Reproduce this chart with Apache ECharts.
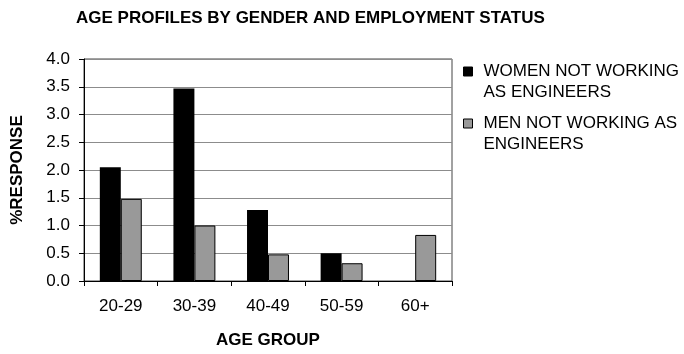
<!DOCTYPE html>
<html>
<head>
<meta charset="utf-8">
<script src="https://cdn.jsdelivr.net/npm/echarts@6/dist/echarts.min.js"></script>
<style>
  html, body { margin: 0; padding: 0; background: #ffffff; }
  #chart { width: 684px; height: 354px; }
</style>
</head>
<body>
<div id="chart"></div>
<script>
// Age groups on the horizontal axis
const ageGroups = ['20-29', '30-39', '40-49', '50-59', '60+'];

// Share of responses (%) per age group
const womenNotEngineers = [2.05, 3.47, 1.28, 0.5, 0];
const menNotEngineers = [1.48, 1.0, 0.48, 0.32, 0.83];

// Vertical scale
const yMin = 0;
const yMax = 4;
const yStep = 0.5;

const seriesNames = ['WOMEN NOT WORKING\nAS ENGINEERS', 'MEN NOT WORKING AS\nENGINEERS'];

const FONT = '"Liberation Sans", Arial, sans-serif';

const chart = echarts.init(document.getElementById('chart'), null, { renderer: 'canvas' });

chart.setOption({
  animation: false,
  backgroundColor: '#ffffff',
  textStyle: { fontFamily: FONT },
  title: {
    text: 'AGE PROFILES BY GENDER AND EMPLOYMENT STATUS',
    left: 76,
    top: 10,
    padding: 0,
    textStyle: { fontFamily: FONT, fontSize: 17, fontWeight: 'bold', color: '#000' }
  },
  legend: {
    orient: 'vertical',
    left: 463,
    top: 40,
    padding: 0,
    itemWidth: 9,
    itemHeight: 9,
    itemGap: -11,
    icon: 'rect',
    selectedMode: false,
    data: seriesNames,
    // an empty first line keeps the swatch level with the first text line
    formatter: name => '\n' + name,
    itemStyle: { borderColor: '#000', borderWidth: 1 },
    textStyle: {
      fontFamily: FONT,
      fontSize: 17,
      lineHeight: 21,
      color: '#000',
      padding: [0, 0, 0, 6]
    }
  },
  grid: {
    left: 84,
    top: 59,
    right: 232,
    bottom: 68,
    show: true,
    borderColor: '#444',
    borderWidth: 1,
    containLabel: false
  },
  xAxis: {
    type: 'category',
    data: ageGroups,
    name: 'AGE GROUP',
    nameLocation: 'middle',
    nameGap: 51,
    nameTextStyle: { fontFamily: FONT, fontSize: 17, fontWeight: 'bold', color: '#000' },
    axisLine: { lineStyle: { color: '#000', width: 1 } },
    axisTick: { show: true, length: 5, lineStyle: { color: '#000' } },
    axisLabel: { fontFamily: FONT, fontSize: 17, color: '#000', margin: 17 }
  },
  yAxis: {
    type: 'value',
    min: yMin,
    max: yMax,
    interval: yStep,
    name: '%RESPONSE',
    nameLocation: 'middle',
    nameGap: 58,
    nameTextStyle: { fontFamily: FONT, fontSize: 17, fontWeight: 'bold', color: '#000' },
    axisLine: { show: true, lineStyle: { color: '#000', width: 1 } },
    axisTick: { show: true, length: 5, lineStyle: { color: '#000' } },
    axisLabel: {
      fontFamily: FONT, fontSize: 17, color: '#000', margin: 14,
      formatter: v => v.toFixed(1)
    },
    splitLine: { show: true, lineStyle: { color: '#8c8c8c', width: 1 } }
  },
  series: [
    {
      name: seriesNames[0],
      type: 'bar',
      data: womenNotEngineers,
      barGap: '0%',
      barCategoryGap: '43%',
      itemStyle: { color: '#000000', borderWidth: 0 }
    },
    {
      name: seriesNames[1],
      type: 'bar',
      data: menNotEngineers,
      barGap: '0%',
      barCategoryGap: '43%',
      itemStyle: { color: '#999999', borderColor: '#000', borderWidth: 1 }
    }
  ]
});
</script>
</body>
</html>
